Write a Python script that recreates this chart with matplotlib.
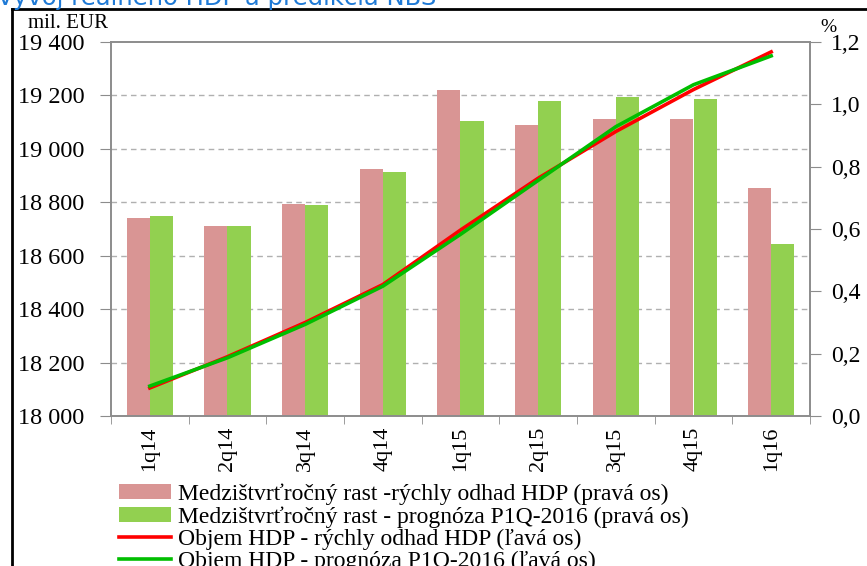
import matplotlib.pyplot as plt
from matplotlib.lines import Line2D
import numpy as np

#-----------Datos-------------#
kvartaly = ["1q14", "2q14", "3q14", "4q14", "1q15", "2q15", "3q15", "4q15", "1q16"]
rast_odhad = [0.636, 0.611, 0.680, 0.792, 1.046, 0.934, 0.953, 0.953, 0.733]
rast_prognoza = [0.641, 0.611, 0.677, 0.782, 0.946, 1.010, 1.022, 1.016, 0.552]
objem_odhad = [18105, 18222, 18350, 18492, 18696, 18890, 19065, 19222, 19363]
objem_prognoza = [18112, 18218, 18343, 18486, 18680, 18882, 19083, 19240, 19348]
lave_ticky = [18000, 18200, 18400, 18600, 18800, 19000, 19200, 19400]
prave_ticky = [0.0, 0.2, 0.4, 0.6, 0.8, 1.0, 1.2]

plt.rcParams['font.family'] = ['Liberation Serif', 'DejaVu Serif']
sivá = "#8c8c8c"

fig = plt.figure(figsize=(8.67, 5.66), dpi=100)
ax = fig.add_axes([111/867, 150/566, 699/867, 374/566])
ax2 = ax.twinx()

x = np.arange(len(kvartaly))
w = 0.3
ax2.bar(x - w/2, rast_odhad, w, color="#D99594", zorder=2,
        label="Medzištvrťročný rast -rýchly odhad HDP (pravá os)")
ax2.bar(x + w/2, rast_prognoza, w, color="#92D050", zorder=2,
        label="Medzištvrťročný rast - prognóza P1Q-2016 (pravá os)")
ax2.set_ylim(0, 1.2)
ax2.set_yticks(prave_ticky)
ax2.set_yticklabels([f"{v:.1f}".replace(".", ",") for v in prave_ticky], fontsize=17)

# mriezka podla lavej osi, za stlpcami
for g in lave_ticky[1:-1]:
    ax2.axhline((g - 18000) / 1400 * 1.2, color="#b0b0b0", lw=1, ls=(0, (4, 3)), zorder=0)

ax.plot(x, objem_odhad, color="#FF0000", lw=2.6, label="Objem HDP - rýchly odhad HDP (ľavá os)")
ax.plot(x, objem_prognoza, color="#00BE00", lw=2.6, label="Objem HDP - prognóza P1Q-2016 (ľavá os)")
ax.set_ylim(18000, 19400)
ax.set_yticks(lave_ticky)
ax.set_yticklabels([f"{v:,}".replace(",", " ") for v in lave_ticky], fontsize=17.5)
ax.set_xlim(-0.5, len(kvartaly) - 0.5)
ax.set_zorder(ax2.get_zorder() + 1)
ax.patch.set_visible(False)

ax.set_xticks(x)
ax.set_xticklabels(kvartaly, rotation=90, fontsize=16)
ax.set_xticks(np.arange(-0.5, len(kvartaly)), minor=True)
ax.tick_params(axis="x", which="major", length=0, pad=8)
ax.tick_params(axis="x", which="minor", length=6, color=sivá, direction="out")
ax.tick_params(axis="y", length=8, color=sivá, pad=11)
ax2.tick_params(axis="y", length=8, color=sivá, pad=7)

for a in (ax, ax2):
    for s in a.spines.values():
        s.set_color(sivá)
        s.set_linewidth(1.2)

fig.text(108/867, 1 - 24/566, "mil. EUR", fontsize=15, ha="right", va="center")
fig.text(820/867, 1 - 27/566, "%", fontsize=14, ha="left", va="center")

# titulok (odrezany)
fig.text(-0.003, 1 - 5/566, "Vývoj reálneho HDP a predikcia NBS", family="DejaVu Sans",
         fontsize=17.5, color="#1F7AD6", ha="left", va="baseline")

# ramik
fig.add_artist(Line2D([12/867, 12/867], [0, 1 - 9/566], color="black", lw=2))
fig.add_artist(Line2D([12/867, 1], [1 - 9/566, 1 - 9/566], color="black", lw=2))

h1, l1 = ax2.get_legend_handles_labels()
h2, l2 = ax.get_legend_handles_labels()
fig.legend(h1 + h2, l1 + l2, loc="upper left", bbox_to_anchor=(110/867, 1 - 474/566),
           frameon=False, fontsize=17, handlelength=2.2, handleheight=0.6,
           handletextpad=0.3, labelspacing=0.05, borderaxespad=0)

plt.savefig("out.png")
